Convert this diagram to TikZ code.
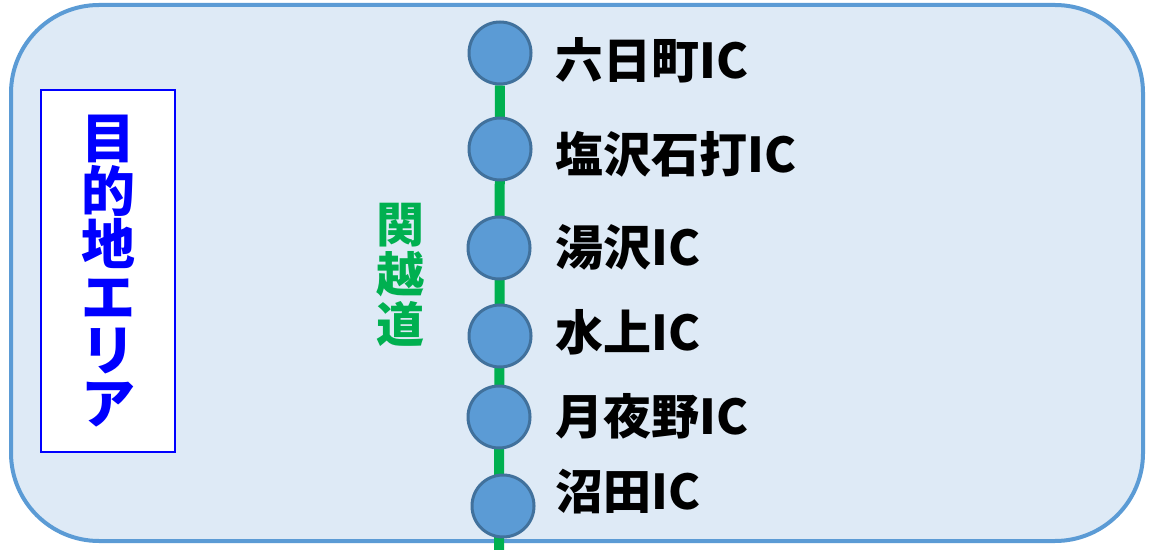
\documentclass[tikz,border=0pt]{standalone}
\usepackage{fontspec}
\usetikzlibrary{backgrounds}
\setmainfont{Noto Sans CJK JP}
\definecolor{areafill}{RGB}{222,234,246}
\definecolor{arealine}{RGB}{91,155,213}
\definecolor{icfill}{RGB}{91,155,213}
\definecolor{icline}{RGB}{65,113,156}
\definecolor{roadgreen}{RGB}{0,176,80}
\tikzset{
  icdot/.style={circle, fill=icfill, draw=icline, line width=1.5pt, minimum size=31pt, inner sep=0pt},
  iclabel/.style={anchor=west, inner sep=0pt, font=\fontsize{24}{24}\selectfont\bfseries},
  road/.style={draw=roadgreen, line width=5pt},
}
\begin{document}
\begin{tikzpicture}[x=0.5pt, y=-0.5pt]
\useasboundingbox (0,0) rectangle (1154,550);
\node[draw=blue, fill=white, line width=1pt, minimum width=67pt, minimum height=181pt, inner sep=0pt,
  align=center, text=blue, font=\fontsize{27}{26.5}\selectfont\bfseries] (area) at (108,271) {目\\的\\地\\エ\\リ\\ア};
\node[align=center, text=roadgreen, inner sep=0pt, font=\fontsize{24}{25}\selectfont\bfseries] (roadname) at (400,275) {関\\越\\道};
% interchanges
\foreach \i/\cx/\cy/\ly/\lbl in {1/500/53/60/六日町IC, 2/500/149/154/塩沢石打IC, 3/499/248/247/湯沢IC,
  4/500/336/332/水上IC, 5/499/417/416/月夜野IC, 6/503/506/492/沼田IC} {
  \node[icdot] (ic\i) at (\cx,\cy) {};
  \node[iclabel] (lbl\i) at (555,\ly) {\lbl};
}
\coordinate (roadend) at (499,556);
\begin{scope}[on background layer]
% destination area
\draw[arealine, fill=areafill, line width=2pt, rounded corners=44pt] (11,5) rectangle (1143,541);
\draw[road] (ic1) -- (roadend);
\end{scope}
\end{tikzpicture}
\end{document}
